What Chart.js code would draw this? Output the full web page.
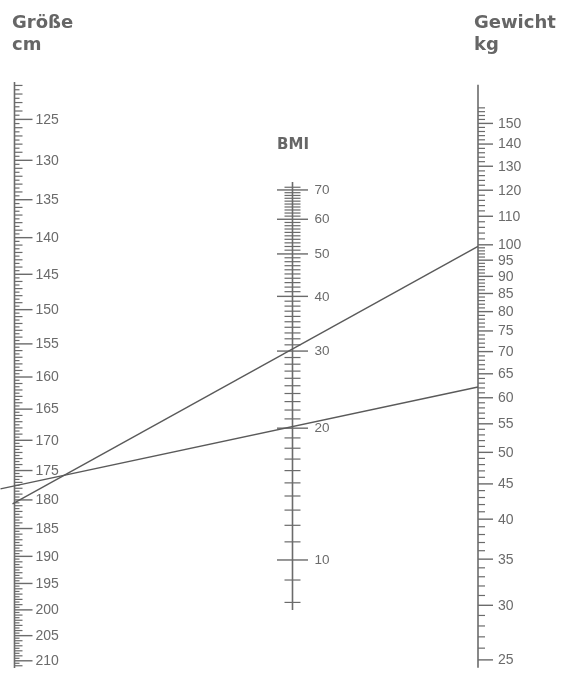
<!DOCTYPE html>
<html>
<head>
<meta charset="utf-8">
<script src="https://cdn.jsdelivr.net/npm/chart.js@4.4.1/dist/chart.umd.min.js"></script>
<style>
  html, body { margin: 0; padding: 0; background: #fff; }
  #wrap { width: 562px; height: 675px; position: relative; }
</style>
</head>
<body>
<div id="wrap"><canvas id="nomo"></canvas></div>
<script>
// values written on the three scales
const heightLabels = [125, 130, 135, 140, 145, 150, 155, 160, 165, 170, 175, 180, 185, 190, 195, 200, 205, 210];
const weightLabels = [25, 30, 35, 40, 45, 50, 55, 60, 65, 70, 75, 80, 85, 90, 95, 100, 110, 120, 130, 140, 150];
const bmiLabels = [10, 20, 30, 40, 50, 60, 70];

// tick runs on each scale: [from, to, step]
const heightTicks = [[121, 211, 0.5]];
const weightTicks = [[25, 100, 1], [100, 158, 2]];
const bmiTicks = [[8, 71, 1]];

// the two drawn readings: height (cm) joined to weight (kg)
const lineHeights = [177.6, 180.5];
const lineWeights = [62.2, 99.5];

const ink = '#6b6b6b';
const lineInk = '#5a5a5a';

function runValues(runs) {
  const out = [];
  runs.forEach(([a, b, s]) => {
    for (let v = a; v <= b + 1e-9; v += s) out.push(Math.round(v * 10) / 10);
  });
  return out;
}

function drawScale(ctx, scale, xp, ends, runs, labels, o) {
  ctx.strokeStyle = ink;
  ctx.lineWidth = 1.6;
  ctx.beginPath();
  ctx.moveTo(xp, scale.getPixelForValue(ends[0]));
  ctx.lineTo(xp, scale.getPixelForValue(ends[1]));
  ctx.stroke();

  ctx.lineWidth = 1.2;
  runValues(runs).forEach(v => {
    if (labels.includes(v)) return;
    const y = scale.getPixelForValue(v);
    const len = o.minor(v);
    ctx.beginPath();
    ctx.moveTo(xp - len[0], y);
    ctx.lineTo(xp + len[1], y);
    ctx.stroke();
  });

  ctx.font = o.font;
  ctx.fillStyle = ink;
  ctx.textAlign = 'left';
  ctx.textBaseline = 'middle';
  labels.forEach(v => {
    const y = scale.getPixelForValue(v);
    ctx.lineWidth = 1.4;
    ctx.beginPath();
    ctx.moveTo(xp - o.major[0], y);
    ctx.lineTo(xp + o.major[1], y);
    ctx.stroke();
    ctx.fillText(String(v), xp + o.labelGap, y + 0.5);
  });
}

const nomogram = {
  id: 'nomogram',
  beforeDraw(chart) {
    const ctx = chart.ctx;
    ctx.save();
    ctx.fillStyle = '#ffffff';
    ctx.fillRect(0, 0, chart.width, chart.height);
    ctx.restore();
  },
  afterDraw(chart) {
    const ctx = chart.ctx;
    const sx = chart.scales.x, sh = chart.scales.h, sw = chart.scales.w, sb = chart.scales.b;
    const xH = sx.getPixelForValue(14.5);
    const xB = sx.getPixelForValue(292.5);
    const xW = sx.getPixelForValue(478);
    const labelFont = '14px "Liberation Sans", Arial, sans-serif';
    ctx.save();

    drawScale(ctx, sh, xH, [120.6, 211.45], heightTicks, heightLabels, {
      minor: v => [0, Number.isInteger(v) ? 8 : 5],
      major: [0, 18],
      labelGap: 21,
      font: labelFont
    });
    drawScale(ctx, sw, xW, [24.35, 170.6], weightTicks, weightLabels, {
      minor: () => [0, 7],
      major: [0, 15],
      labelGap: 20,
      font: labelFont
    });
    drawScale(ctx, sb, xB, [7.69, 73], bmiTicks, bmiLabels, {
      minor: () => [8, 8],
      major: [15.5, 15.5],
      labelGap: 22,
      font: '13.5px "Liberation Sans", Arial, sans-serif'
    });

    // titles
    ctx.fillStyle = '#666666';
    ctx.textBaseline = 'alphabetic';
    ctx.textAlign = 'left';
    ctx.font = 'bold 18px "DejaVu Sans", sans-serif';
    ctx.fillText('Größe', 12, 28);
    ctx.fillText('cm', 12, 50);
    ctx.fillText('Gewicht', 474, 28);
    ctx.fillText('kg', 474, 50);
    ctx.font = 'bold 15px "DejaVu Sans", sans-serif';
    ctx.textAlign = 'center';
    ctx.fillText('BMI', 293, 149);

    // readings
    const overshoot = [14, 2];
    ctx.strokeStyle = lineInk;
    ctx.lineWidth = 1.4;
    lineHeights.forEach((h, i) => {
      const y1 = sh.getPixelForValue(h);
      const y2 = sw.getPixelForValue(lineWeights[i]);
      const slope = (y2 - y1) / (xW - xH);
      const x0 = xH - overshoot[i];
      ctx.beginPath();
      ctx.moveTo(x0, y1 - slope * overshoot[i]);
      ctx.lineTo(xW, y2);
      ctx.stroke();
    });
    ctx.restore();
  }
};

new Chart(document.getElementById('nomo'), {
  type: 'scatter',
  data: { datasets: [] },
  options: {
    responsive: true,
    maintainAspectRatio: false,
    animation: false,
    layout: { padding: { top: 80, bottom: 5, left: 0, right: 0 } },
    plugins: { legend: { display: false }, tooltip: { enabled: false } },
    scales: {
      x: { type: 'linear', min: 0, max: 562, display: false },
      h: { type: 'logarithmic', axis: 'y', position: 'left', min: 120.37, max: 211.86, reverse: true, bounds: 'data', display: false },
      w: { type: 'logarithmic', axis: 'y', position: 'left', min: 24.17, max: 173.4, bounds: 'data', display: false },
      b: { type: 'logarithmic', axis: 'y', position: 'left', min: 5.607, max: 124.8, bounds: 'data', display: false }
    }
  },
  plugins: [nomogram]
});
</script>
</body>
</html>
